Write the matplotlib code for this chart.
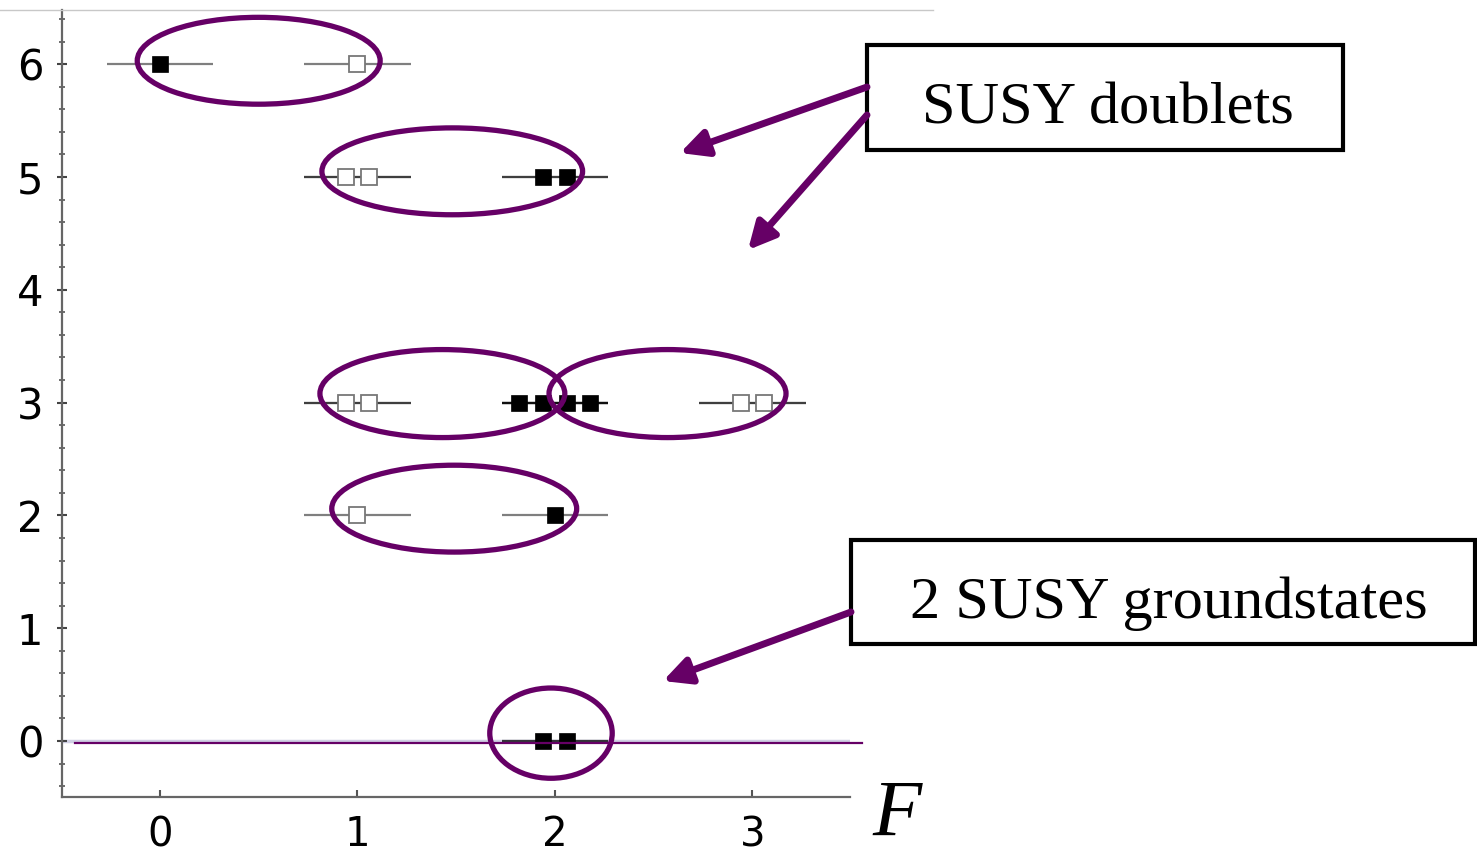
import numpy as np
import matplotlib
matplotlib.use("Agg")
import matplotlib.pyplot as plt
from matplotlib.patches import Ellipse, Rectangle, FancyArrowPatch
from matplotlib.lines import Line2D
from matplotlib.ticker import MultipleLocator

# spectrum levels: fermion number F, energy E, number of states at that level
F_level = [0, 1, 1, 2, 1, 2, 3, 1, 2, 2]
E_level = [6, 6, 5, 5, 3, 3, 3, 2, 2, 0]
n_states = [1, 1, 2, 2, 2, 4, 2, 1, 1, 2]

# SUSY doublets / groundstates that get circled: (F centre, E centre, width, height)
ring_F = [0.50, 1.48, 1.43, 2.57, 1.49, 1.98]
ring_E = [6.03, 5.05, 3.08, 3.08, 2.06, 0.07]
ring_w = [1.23, 1.32, 1.24, 1.20, 1.24, 0.62]
ring_h = [0.77, 0.77, 0.78, 0.78, 0.77, 0.80]

x_ticks = [0, 1, 2, 3]
y_ticks = [0, 1, 2, 3, 4, 5, 6]

W, H = 1477, 859
purple = "#660066"

fig = plt.figure(figsize=(W / 100, H / 100), dpi=100)
ax = fig.add_axes([62 / W, (H - 797) / H, (850 - 62) / W, (797 - 10) / H])
ax.set_xlim(-0.496, 3.494)
ax.set_ylim(-0.496, 6.48)


def px(x, y):
    return (x / W, 1 - y / H)


# light line along E = 0, then the purple groundstate line
ax.axhline(0, color="#d0d0e4", lw=2.5, zorder=1)
ax.plot([-0.43, 3.555], [-0.015, -0.015], color=purple, lw=1.6, zorder=4, clip_on=False)

half = 0.27
step = 0.12
for f, e, n in zip(F_level, E_level, n_states):
    offs = (np.arange(n) - (n - 1) / 2) * step
    for o in offs:
        ax.plot([f - half, f + half], [e, e], color="black", alpha=0.5, lw=1.6,
                solid_capstyle="butt", zorder=2)
    if f % 2 == 0:
        ax.plot(f + offs, [e] * n, ls="none", marker="s", ms=12, mfc="black",
                mec="black", mew=0.5, zorder=3)
    else:
        ax.plot(f + offs, [e] * n, ls="none", marker="s", ms=12, mfc="white",
                mec="#777777", mew=1.3, zorder=3)

for cx, cy, w, h in zip(ring_F, ring_E, ring_w, ring_h):
    ax.add_patch(Ellipse((cx, cy), w, h, fill=False, ec=purple, lw=3.8,
                         zorder=5, clip_on=False))

# Mathematica style axes
for s in ["top", "right"]:
    ax.spines[s].set_visible(False)
for s in ["left", "bottom"]:
    ax.spines[s].set_color("#666666")
    ax.spines[s].set_linewidth(1.6)
ax.set_xticks(x_ticks)
ax.set_yticks(y_ticks)
ax.yaxis.set_minor_locator(MultipleLocator(0.2))
ax.tick_params(axis="x", direction="in", length=5, width=1.5, color="#555555",
               labelsize=29, pad=13)
ax.tick_params(axis="y", which="major", direction="inout", length=7, width=1.5,
               color="#444444", labelsize=30, pad=10)
ax.tick_params(axis="y", which="minor", direction="inout", length=4, width=1.2,
               color="#555555")
for lab in ax.get_xticklabels() + ax.get_yticklabels():
    lab.set_family("DejaVu Sans")

fig.text(*px(872, 836), "F", fontsize=58, family="Liberation Serif",
         style="italic", ha="left", va="baseline")

# frame top edge
fig.add_artist(Line2D([0, 933 / W], [1 - 10 / H, 1 - 10 / H], color="#c8c8c8",
                      lw=1, transform=fig.transFigure))

# label boxes
boxes = [((867, 45), (1343, 150), "SUSY doublets", 1108, 123),
         ((851, 540), (1475, 644), "2 SUSY groundstates", 1169, 618)]
for (x0, y0), (x1, y1), txt, tx, ty in boxes:
    fig.add_artist(Rectangle(px(x0, y1), (x1 - x0) / W, (y1 - y0) / H, fill=False,
                             ec="black", lw=3, transform=fig.transFigure))
    fig.text(*px(tx, ty), txt, fontsize=43.5, family="Liberation Serif",
             ha="center", va="baseline")

arrows = [((867, 87), (680, 153)), ((867, 115), (748, 250)), ((851, 612), (663, 681))]
for start, end in arrows:
    fig.add_artist(FancyArrowPatch(px(*start), px(*end), transform=fig.transFigure,
                                   arrowstyle="-|>,head_length=0.9,head_width=0.45",
                                   mutation_scale=18, color=purple, lw=5,
                                   shrinkA=0, shrinkB=0))

fig.savefig("out.png", dpi=100)
